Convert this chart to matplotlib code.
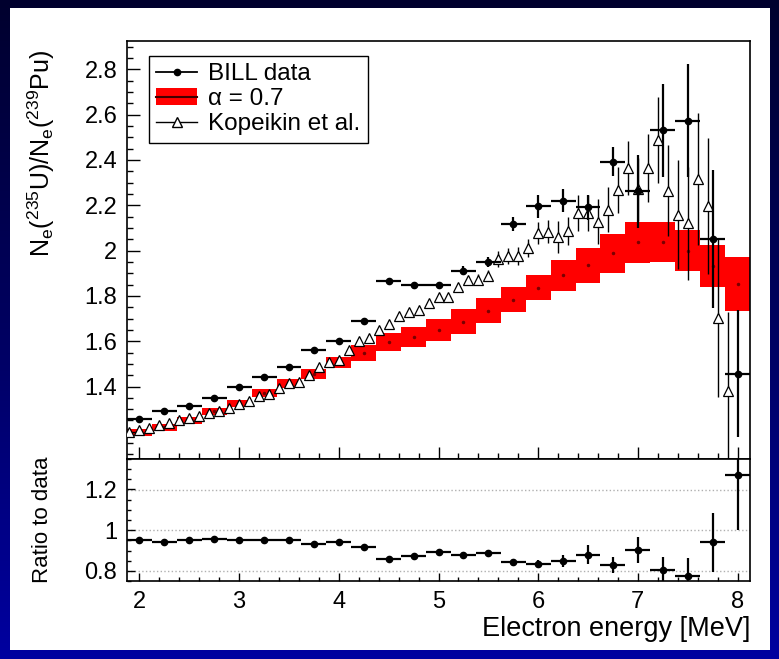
import matplotlib
matplotlib.use('Agg')
import matplotlib.pyplot as plt
from matplotlib.patches import Patch, Rectangle
from matplotlib.lines import Line2D
from matplotlib.ticker import MultipleLocator, FuncFormatter
from matplotlib.colors import LinearSegmentedColormap
import numpy as np

plt.rcParams['font.family'] = ['Liberation Sans', 'DejaVu Sans']
plt.rcParams['mathtext.fontset'] = 'custom'
plt.rcParams['mathtext.rm'] = 'Liberation Sans'
plt.rcParams['mathtext.it'] = 'Liberation Sans:italic'

# BILL data, 0.25 MeV bins
energy = [2.0, 2.25, 2.5, 2.75, 3.0, 3.25, 3.5, 3.75, 4.0, 4.25, 4.5, 4.75, 5.0,
          5.25, 5.5, 5.75, 6.0, 6.25, 6.5, 6.75, 7.0, 7.25, 7.5, 7.75, 8.0]
bill = [1.256, 1.293, 1.315, 1.349, 1.397, 1.443, 1.486, 1.559, 1.602, 1.690,
        1.864, 1.846, 1.846, 1.911, 1.948, 2.118, 2.195, 2.220, 2.192, 2.393,
        2.261, 2.530, 2.574, 2.052, 1.456]
bill_err = [0.008, 0.008, 0.008, 0.008, 0.008, 0.008, 0.008, 0.008, 0.008, 0.010,
            0.012, 0.014, 0.016, 0.020, 0.022, 0.030, 0.050, 0.050, 0.055, 0.066,
            0.160, 0.205, 0.250, 0.305, 0.280]

# alpha = 0.7 prediction (centre, half width)
alpha_mid = [1.196, 1.220, 1.250, 1.290, 1.325, 1.370, 1.415, 1.455, 1.507, 1.546,
             1.598, 1.618, 1.650, 1.686, 1.734, 1.784, 1.836, 1.890, 1.935, 1.988,
             2.037, 2.036, 2.000, 1.931, 1.853]
alpha_half = [0.015, 0.015, 0.015, 0.016, 0.017, 0.018, 0.020, 0.022, 0.024, 0.035,
              0.040, 0.044, 0.050, 0.055, 0.055, 0.055, 0.055, 0.068, 0.077, 0.085,
              0.090, 0.088, 0.092, 0.092, 0.118]

# Kopeikin et al.
kop_x = [1.9, 2.0, 2.1, 2.2, 2.3, 2.4, 2.5, 2.6, 2.7, 2.8, 2.9, 3.0, 3.1, 3.2, 3.3,
         3.4, 3.5, 3.6, 3.7, 3.8, 3.9, 4.0, 4.1, 4.2, 4.3, 4.4, 4.5, 4.6, 4.7, 4.8,
         4.9, 5.0, 5.1, 5.2, 5.3, 5.4, 5.5, 5.6, 5.7, 5.8, 5.9, 6.0, 6.1, 6.2, 6.3,
         6.4, 6.5, 6.6, 6.7, 6.8, 6.9, 7.0, 7.1, 7.2, 7.3, 7.4, 7.5, 7.6, 7.7, 7.8, 7.9]
kop_y = [1.201, 1.209, 1.216, 1.231, 1.238, 1.253, 1.260, 1.268, 1.283, 1.290,
         1.305, 1.324, 1.334, 1.356, 1.368, 1.393, 1.415, 1.422, 1.452, 1.488,
         1.510, 1.518, 1.562, 1.599, 1.616, 1.650, 1.677, 1.712, 1.731, 1.739,
         1.768, 1.797, 1.795, 1.839, 1.868, 1.871, 1.889, 1.962, 1.977, 1.977,
         2.011, 2.077, 2.084, 2.060, 2.086, 2.166, 2.166, 2.128, 2.180, 2.268,
         2.364, 2.270, 2.364, 2.489, 2.265, 2.158, 2.121, 2.316, 2.198, 1.702, 1.378]
kop_err = [0.005] * 32 + [0.015, 0.020, 0.020, 0.025, 0.025, 0.035, 0.035, 0.040,
                          0.040, 0.050, 0.050, 0.070, 0.060, 0.080, 0.080, 0.100,
                          0.100, 0.100, 0.120, 0.140, 0.150, 0.190, 0.200, 0.240,
                          0.250, 0.290, 0.300, 0.350, 0.350]

# ratio panel
ratio = [0.951, 0.943, 0.951, 0.956, 0.951, 0.951, 0.951, 0.931, 0.941, 0.915,
         0.857, 0.874, 0.891, 0.880, 0.890, 0.841, 0.833, 0.849, 0.880, 0.828,
         0.902, 0.803, 0.774, 0.940, 1.270]
ratio_err = [0.006, 0.006, 0.006, 0.006, 0.006, 0.006, 0.006, 0.006, 0.006, 0.007,
             0.008, 0.009, 0.010, 0.012, 0.013, 0.016, 0.020, 0.030, 0.045, 0.040,
             0.063, 0.065, 0.090, 0.146, 0.270]

W, H = 779, 659
fig = plt.figure(figsize=(W / 100, H / 100), dpi=100)

# blue slide background with white panel
bg = fig.add_axes([0, 0, 1, 1], zorder=-10)
cmap = LinearSegmentedColormap.from_list('bg', ['#00002e', '#000060', '#0000a0'])
bg.imshow(np.linspace(0, 1, 256).reshape(-1, 1), aspect='auto', cmap=cmap,
          extent=[0, 1, 0, 1])
bg.add_patch(Rectangle((10 / W, 9 / H), 760 / W, 642 / H, transform=bg.transAxes,
                       facecolor='white', edgecolor='none'))
bg.axis('off')

ax = fig.add_axes([127 / W, 1 - 459 / H, 623 / W, 418 / H])
rax = fig.add_axes([127 / W, 1 - 581 / H, 623 / W, 122 / H])

e = np.array(energy)
mid = np.array(alpha_mid)
half = np.array(alpha_half)
ax.bar(e, 2 * half, bottom=mid - half, width=0.25, color='#ff0000', linewidth=0, zorder=1)
ax.plot(e, mid, ls='none', marker='o', ms=1.5, color='#7a0000', zorder=2)

ax.errorbar(kop_x, kop_y, yerr=kop_err, fmt='^', ms=7, mfc='white', mec='black',
            mew=0.9, ecolor='black', elinewidth=1.0, capsize=0, zorder=3)
ax.errorbar(energy, bill, xerr=0.125, yerr=bill_err, fmt='o', ms=4.5, color='black',
            elinewidth=1.6, capsize=0, zorder=4)

ax.set_xlim(1.875, 8.125)
ax.set_ylim(1.08, 2.925)
ax.yaxis.set_major_locator(MultipleLocator(0.2))
ax.yaxis.set_minor_locator(MultipleLocator(0.05))
ax.yaxis.set_major_formatter(FuncFormatter(lambda v, p: '' if v < 1.3 else '%g' % round(v, 1)))
ax.xaxis.set_major_locator(MultipleLocator(1))
ax.xaxis.set_minor_locator(MultipleLocator(0.2))
ax.tick_params(which='both', direction='in', labelbottom=False, labelsize=17, width=1.0)
ax.tick_params(which='major', length=9, pad=7)
ax.tick_params(which='minor', length=4.5)
ax.set_ylabel(r'N$_\mathrm{e}$($^\mathrm{235}$U)/N$_\mathrm{e}$($^\mathrm{239}$Pu)', fontsize=18)
ax.yaxis.set_label_coords(-0.112, 0.73)
for s in ax.spines.values():
    s.set_linewidth(1.2)

handles = [Line2D([], [], color='black', marker='o', ms=4.5, lw=1.3),
           (Patch(facecolor='#ff0000', edgecolor='none'), Line2D([], [], color='#400000', lw=1.5)),
           Line2D([], [], color='black', marker='^', ms=6.5, mfc='white', mec='black', lw=1.0)]
labels = ['BILL data', 'α = 0.7', 'Kopeikin et al.']
leg = ax.legend(handles, labels, loc='upper left', bbox_to_anchor=(0.035, 0.964),
                fontsize=17.5, fancybox=False, edgecolor='black', framealpha=1,
                borderaxespad=0, handlelength=1.7, handletextpad=0.45,
                labelspacing=0.12, borderpad=0.3)
leg.get_frame().set_linewidth(1.0)

# ratio panel
for yl in [0.8, 1.0, 1.2]:
    rax.axhline(yl, color='#b0b0b0', ls=':', lw=1.0, zorder=0)
rax.errorbar(energy, ratio, xerr=0.125, yerr=ratio_err, fmt='o', ms=4.5, color='black',
             elinewidth=1.6, capsize=0, zorder=3)
rax.set_xlim(1.875, 8.125)
rax.set_ylim(0.75, 1.35)
rax.yaxis.set_major_locator(MultipleLocator(0.2))
rax.yaxis.set_minor_locator(MultipleLocator(0.05))
rax.yaxis.set_major_formatter(FuncFormatter(lambda v, p: '%g' % round(v, 1)))
rax.xaxis.set_major_locator(MultipleLocator(1))
rax.xaxis.set_minor_locator(MultipleLocator(0.2))
rax.tick_params(which='both', direction='in', labelsize=17, width=1.0)
rax.tick_params(which='major', length=6, pad=7)
rax.tick_params(which='minor', length=3)
rax.set_ylabel('Ratio to data', fontsize=16)
rax.yaxis.set_label_coords(-0.118, 0.5)
rax.set_xlabel('Electron energy [MeV]', fontsize=19.5, loc='right', labelpad=2)
for s in rax.spines.values():
    s.set_linewidth(1.2)

fig.savefig('out.png', dpi=100)
